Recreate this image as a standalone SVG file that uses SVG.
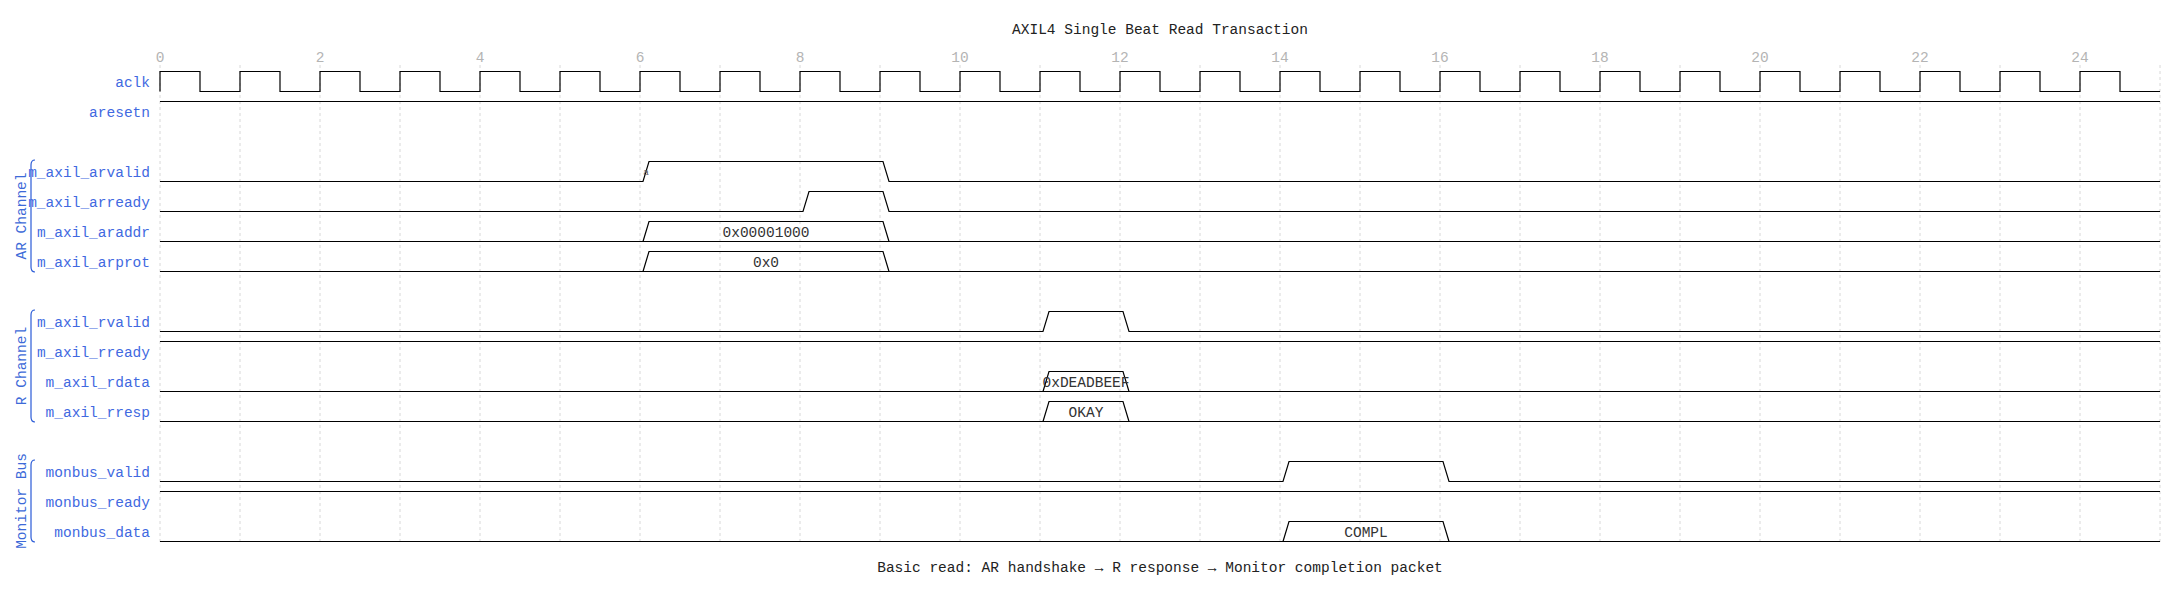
<svg xmlns="http://www.w3.org/2000/svg" width="2180" height="592" viewBox="0 0 2180 592">
<style>
.lbl{font-family:"Liberation Mono","DejaVu Sans Mono",monospace;font-size:14.5px;fill:#4169e1;text-anchor:end}
.grp{font-family:"Liberation Mono","DejaVu Sans Mono",monospace;font-size:14.5px;fill:#3d6ad8;text-anchor:middle}
.tick{font-family:"Liberation Mono","DejaVu Sans Mono",monospace;font-size:14.5px;fill:#b4b4b4;text-anchor:middle}
.dat{font-family:"Liberation Mono","DejaVu Sans Mono",monospace;font-size:14.5px;fill:#333;text-anchor:middle}
.ttl{font-family:"Liberation Mono","DejaVu Sans Mono",monospace;font-size:14.5px;fill:#222;text-anchor:middle}
.w{fill:none;stroke:#000;stroke-width:1.2}
.br{fill:none;stroke:#2a5bd7;stroke-width:1.2}
.grid{fill:none;stroke:#d8d8d8;stroke-width:1;stroke-dasharray:3 3}
</style>
<rect width="2180" height="592" fill="#fff"/>
<text class="ttl" x="1160" y="34">AXIL4 Single Beat Read Transaction</text>
<g id="grid">
<path class="grid" d="M160,65V545M240,65V545M320,65V545M400,65V545M480,65V545M560,65V545M640,65V545M720,65V545M800,65V545M880,65V545M960,65V545M1040,65V545M1120,65V545M1200,65V545M1280,65V545M1360,65V545M1440,65V545M1520,65V545M1600,65V545M1680,65V545M1760,65V545M1840,65V545M1920,65V545M2000,65V545M2080,65V545M2160,65V545"/>
<text class="tick" x="160" y="62">0</text>
<text class="tick" x="320" y="62">2</text>
<text class="tick" x="480" y="62">4</text>
<text class="tick" x="640" y="62">6</text>
<text class="tick" x="800" y="62">8</text>
<text class="tick" x="960" y="62">10</text>
<text class="tick" x="1120" y="62">12</text>
<text class="tick" x="1280" y="62">14</text>
<text class="tick" x="1440" y="62">16</text>
<text class="tick" x="1600" y="62">18</text>
<text class="tick" x="1760" y="62">20</text>
<text class="tick" x="1920" y="62">22</text>
<text class="tick" x="2080" y="62">24</text>
</g>
<g id="groups">
<g id="grp-ar">
<path class="br" d="M35,160 Q31,160 31,165 V267 Q31,272 35,272"/>
<text class="grp" transform="translate(26,216) rotate(-90)">AR Channel</text>
</g>
<g id="grp-r">
<path class="br" d="M35,310 Q31,310 31,315 V417 Q31,422 35,422"/>
<text class="grp" transform="translate(26,366) rotate(-90)">R Channel</text>
</g>
<g id="grp-mon">
<path class="br" d="M35,460 Q31,460 31,465 V537 Q31,542 35,542"/>
<text class="grp" transform="translate(26,501) rotate(-90)">Monitor Bus</text>
</g>
</g>
<g id="sig-aclk">
<text class="lbl" x="150" y="86.5">aclk</text>
<path class="w" d="M160,91.5 V71.5 H200 V91.5 H240 V71.5 H280 V91.5 H320 V71.5 H360 V91.5 H400 V71.5 H440 V91.5 H480 V71.5 H520 V91.5 H560 V71.5 H600 V91.5 H640 V71.5 H680 V91.5 H720 V71.5 H760 V91.5 H800 V71.5 H840 V91.5 H880 V71.5 H920 V91.5 H960 V71.5 H1000 V91.5 H1040 V71.5 H1080 V91.5 H1120 V71.5 H1160 V91.5 H1200 V71.5 H1240 V91.5 H1280 V71.5 H1320 V91.5 H1360 V71.5 H1400 V91.5 H1440 V71.5 H1480 V91.5 H1520 V71.5 H1560 V91.5 H1600 V71.5 H1640 V91.5 H1680 V71.5 H1720 V91.5 H1760 V71.5 H1800 V91.5 H1840 V71.5 H1880 V91.5 H1920 V71.5 H1960 V91.5 H2000 V71.5 H2040 V91.5 H2080 V71.5 H2120 V91.5 H2160"/>
</g>
<g id="sig-aresetn">
<text class="lbl" x="150" y="116.5">aresetn</text>
<path class="w" d="M160,101.5 H2160"/>
</g>
<g id="sig-arvalid">
<text class="lbl" x="150" y="176.5">m_axil_arvalid</text>
<path class="w" d="M160,181.5 H643 L649,161.5 H883 L889,181.5 H2160"/>
<text x="646" y="175" font-family="Liberation Sans, sans-serif" font-size="9" fill="#555" text-anchor="middle">a</text>
</g>
<g id="sig-arready">
<text class="lbl" x="150" y="206.5">m_axil_arready</text>
<path class="w" d="M160,211.5 H803 L809,191.5 H883 L889,211.5 H2160"/>
</g>
<g id="sig-araddr">
<text class="lbl" x="150" y="236.5">m_axil_araddr</text>
<path class="w" d="M160,241.5 H2160 M643,241.5 L649,221.5 H883 L889,241.5"/>
<text class="dat" x="766" y="236.5">0x00001000</text>
</g>
<g id="sig-arprot">
<text class="lbl" x="150" y="266.5">m_axil_arprot</text>
<path class="w" d="M160,271.5 H2160 M643,271.5 L649,251.5 H883 L889,271.5"/>
<text class="dat" x="766" y="266.5">0x0</text>
</g>
<g id="sig-rvalid">
<text class="lbl" x="150" y="326.5">m_axil_rvalid</text>
<path class="w" d="M160,331.5 H1043 L1049,311.5 H1123 L1129,331.5 H2160"/>
</g>
<g id="sig-rready">
<text class="lbl" x="150" y="356.5">m_axil_rready</text>
<path class="w" d="M160,341.5 H2160"/>
</g>
<g id="sig-rdata">
<text class="lbl" x="150" y="386.5">m_axil_rdata</text>
<path class="w" d="M160,391.5 H2160 M1043,391.5 L1049,371.5 H1123 L1129,391.5"/>
<text class="dat" x="1086" y="386.5">0xDEADBEEF</text>
</g>
<g id="sig-rresp">
<text class="lbl" x="150" y="416.5">m_axil_rresp</text>
<path class="w" d="M160,421.5 H2160 M1043,421.5 L1049,401.5 H1123 L1129,421.5"/>
<text class="dat" x="1086" y="416.5">OKAY</text>
</g>
<g id="sig-monbus-valid">
<text class="lbl" x="150" y="476.5">monbus_valid</text>
<path class="w" d="M160,481.5 H1283 L1289,461.5 H1443 L1449,481.5 H2160"/>
</g>
<g id="sig-monbus-ready">
<text class="lbl" x="150" y="506.5">monbus_ready</text>
<path class="w" d="M160,491.5 H2160"/>
</g>
<g id="sig-monbus-data">
<text class="lbl" x="150" y="536.5">monbus_data</text>
<path class="w" d="M160,541.5 H2160 M1283,541.5 L1289,521.5 H1443 L1449,541.5"/>
<text class="dat" x="1366" y="536.5">COMPL</text>
</g>
<g id="connectors"></g>
<text class="ttl" x="1160" y="572">Basic read: AR handshake → R response → Monitor completion packet</text>
</svg>
